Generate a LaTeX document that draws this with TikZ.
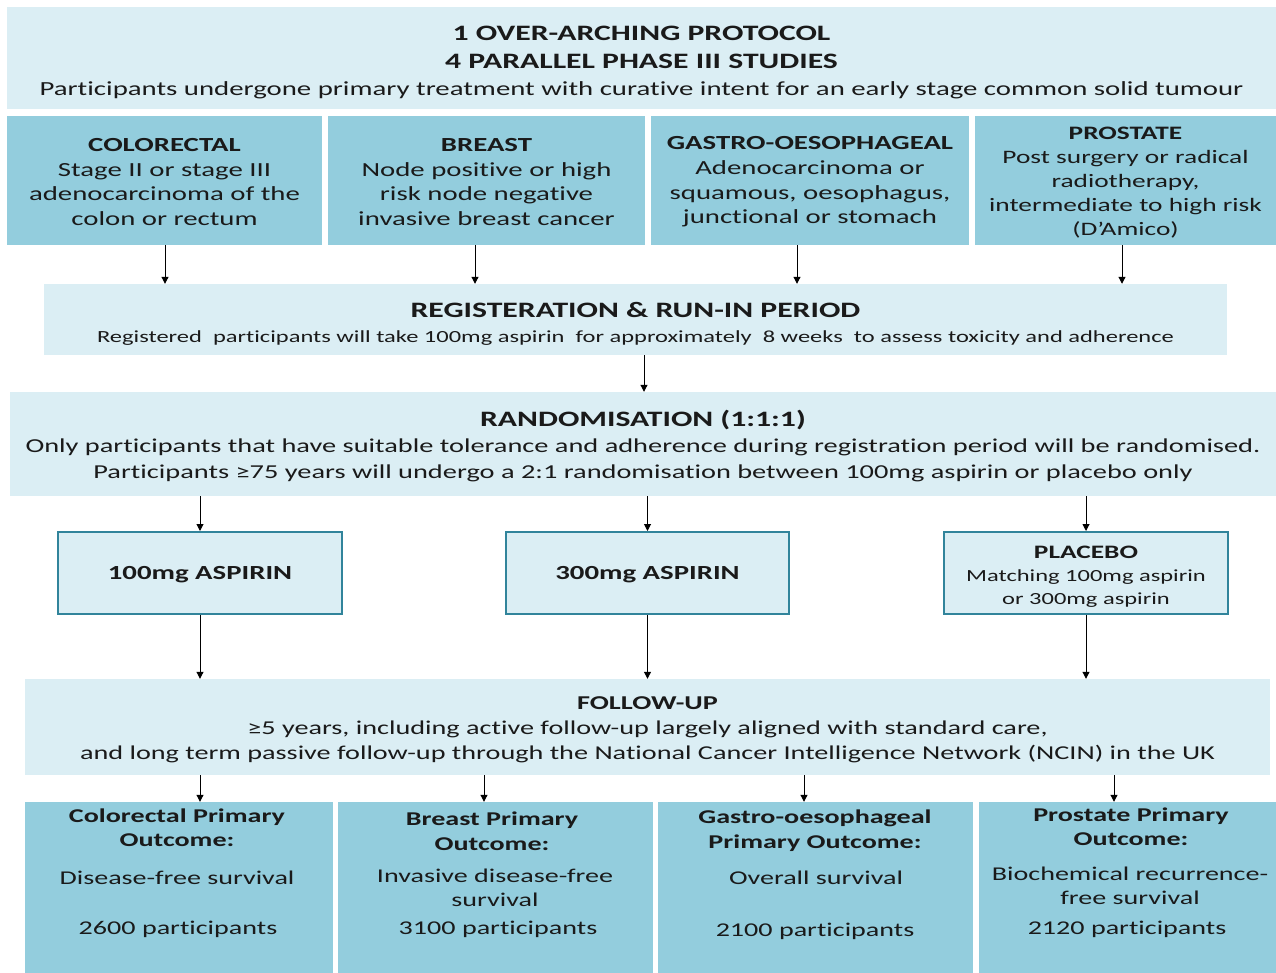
\documentclass[tikz,border=0pt]{standalone}
\usepackage{fontspec}
\setmainfont{Carlito}[FakeStretch=1.44, Ligatures=NoCommon]
\usetikzlibrary{arrows.meta}
\definecolor{lightb}{HTML}{DBEEF4}
\definecolor{darkb}{HTML}{93CDDD}
\definecolor{edgeb}{HTML}{31849B}
\definecolor{ink}{HTML}{1A1A1A}
\newcommand\fsz[2]{\fontsize{#1}{#2}\selectfont}
\tikzset{
  lbox/.style={fill=lightb, draw=none, inner sep=0pt},
  dbox/.style={fill=darkb, draw=none, inner sep=0pt},
  tbox/.style={fill=lightb, draw=edgeb, line width=2pt, inner sep=0pt},
  txt/.style={inner sep=0pt, align=center, text=ink},
  arr/.style={draw=black, line width=1pt, -{Triangle[length=7pt,width=7pt]}}
}
\begin{document}
\begin{tikzpicture}[x=1pt,y=-1pt]
\useasboundingbox[fill=white] (0,0) rectangle (1276,973);

% top
\node[lbox, minimum width=1269pt, minimum height=102pt] (top) at (641.5,58) {};
\node[txt, font=\fsz{22}{28}] (topx) at ([yshift=-5pt]top.center)
  {\bfseries 1 OVER-ARCHING PROTOCOL\\\bfseries 4 PARALLEL PHASE III STUDIES\\[-1pt]
   \fsz{20}{27}Participants undergone primary treatment with curative intent for an early stage common solid tumour};

% studies
\tikzset{stud/.style={dbox, minimum height=129pt}, studx/.style={txt, font=\fsz{20}{24.7}}}
\node[stud, minimum width=315pt] (col) at (164.5,180.5) {};
\node[stud, minimum width=317pt] (bre) at (486.5,180.5) {};
\node[stud, minimum width=318pt] (gas) at (810,180.5) {};
\node[stud, minimum width=301pt] (pro) at (1125.5,180.5) {};
\node[studx] (colx) at ([yshift=-1.5pt]col.center)
  {\bfseries COLORECTAL\\Stage II or stage III\\adenocarcinoma of the\\colon or rectum};
\node[studx] (brex) at ([yshift=-1.5pt]bre.center)
  {\bfseries BREAST\\Node positive or high\\risk node negative\\invasive breast cancer};
\node[studx] (gasx) at ([yshift=-1.5pt]gas.center)
  {\bfseries GASTRO-OESOPHAGEAL\\Adenocarcinoma or\\squamous, oesophagus,\\junctional or stomach};
\node[studx, font=\fsz{19}{24}] (prox) at ([yshift=-2.5pt]pro.center)
  {\bfseries PROSTATE\\Post surgery or radical\\radiotherapy,\\intermediate to high risk\\(D’Amico)};

% registration
\node[lbox, minimum width=1183pt, minimum height=71pt] (reg) at (635.5,319.5) {};
\node[txt, font=\fsz{22}{25}] (regx) at ([yshift=-4pt]reg.center)
  {\bfseries REGISTERATION \& RUN-IN PERIOD\\
   \fsz{17}{20}Registered\ \ participants will take 100mg aspirin\ \ for approximately\ \ 8 weeks\ \ to assess toxicity and adherence};

\draw[arr] (col.south -| 165,0) -- (reg.north -| 165,0);
\draw[arr] (bre.south -| 475,0) -- (reg.north -| 475,0);
\draw[arr] (gas.south -| 797,0) -- (reg.north -| 797,0);
\draw[arr] (pro.south -| 1122,0) -- (reg.north -| 1122,0);

% randomisation
\node[lbox, minimum width=1266pt, minimum height=104pt] (ran) at (643,444) {};
\node[txt, font=\fsz{19.7}{26}] (ranx) at ([yshift=-2.5pt]ran.center)
  {\fsz{22}{26}\bfseries RANDOMISATION (1:1:1)\\
   Only participants that have suitable tolerance and adherence during registration period will be randomised.\\
   Participants ≥75 years will undergo a 2:1 randomisation between 100mg aspirin or placebo only};
\draw[arr] (reg.south -| 644,0) -- (ran.north -| 644,0);

% treatments
\node[tbox, minimum width=284pt, minimum height=82pt] (t1) at (200,573) {};
\node[tbox, minimum width=283pt, minimum height=82pt] (t2) at (647.5,573) {};
\node[tbox, minimum width=284pt, minimum height=82pt] (t3) at (1086,573) {};
\node[txt, font=\fsz{20}{24}\bfseries] (t1x) at ([yshift=-2pt]t1.center) {100mg ASPIRIN};
\node[txt, font=\fsz{20}{24}\bfseries] (t2x) at ([yshift=-2pt]t2.center) {300mg ASPIRIN};
\node[txt, font=\fsz{17}{23}] (t3x) at ([yshift=-4pt]t3.center)
  {\fsz{19}{23}\bfseries PLACEBO\\Matching 100mg aspirin\\or 300mg aspirin};
\draw[arr] (ran.south -| t1) -- (t1.north);
\draw[arr] (ran.south -| t2) -- (t2.north);
\draw[arr] (ran.south -| t3) -- (t3.north);

% follow-up
\node[lbox, minimum width=1245pt, minimum height=96pt] (fu) at (647.5,727) {};
\node[txt, font=\fsz{19.6}{25}] (fux) at ([yshift=-3pt]fu.center)
  {\bfseries FOLLOW-UP\\
   ≥5 years, including active follow-up largely aligned with standard care,\\
   and long term passive follow-up through the National Cancer Intelligence Network (NCIN) in the UK};
\draw[arr] (t1.south) -- (fu.north -| t1);
\draw[arr] (t2.south) -- (fu.north -| t2);
\draw[arr] (t3.south) -- (fu.north -| t3);

% outcomes
\tikzset{obox/.style={dbox, minimum height=171pt}}
\node[obox, minimum width=308pt] (o1) at (179,887.5) {};
\node[obox, minimum width=315pt] (o2) at (495.5,887.5) {};
\node[obox, minimum width=315pt] (o3) at (815.5,887.5) {};
\node[obox, minimum width=297pt] (o4) at (1127.5,887.5) {};

\tikzset{ot/.style={txt, font=\fsz{19.5}{24.5}\bfseries}, ob/.style={txt, font=\fsz{19.5}{24}}}
\node[ot] (o1t) at (177,827.5) {Colorectal Primary\\Outcome:};
\node[ob] (o1b) at (177,878) {Disease-free survival};
\node[ob] (o1n) at (178,929) {2600 participants};

\node[ot] (o2t) at (492,831) {Breast Primary\\Outcome:};
\node[ob] (o2b) at (495,888) {Invasive disease-free\\survival};
\node[ob] (o2n) at (498,929) {3100 participants};

\node[ot] (o3t) at (815,830.5) {Gastro-oesophageal\\Primary Outcome:};
\node[ob] (o3b) at (816,878) {Overall survival};
\node[ob] (o3n) at (815,931) {2100 participants};

\node[ot] (o4t) at (1131,826.5) {Prostate Primary\\Outcome:};
\node[ob] (o4b) at (1130,886) {Biochemical recurrence-\\free survival};
\node[ob] (o4n) at (1127,929) {2120 participants};

\draw[arr] (fu.south -| 200,0) -- (o1.north -| 200,0);
\draw[arr] (fu.south -| 484,0) -- (o2.north -| 484,0);
\draw[arr] (fu.south -| 804,0) -- (o3.north -| 804,0);
\draw[arr] (fu.south -| 1114,0) -- (o4.north -| 1114,0);
\end{tikzpicture}
\end{document}
